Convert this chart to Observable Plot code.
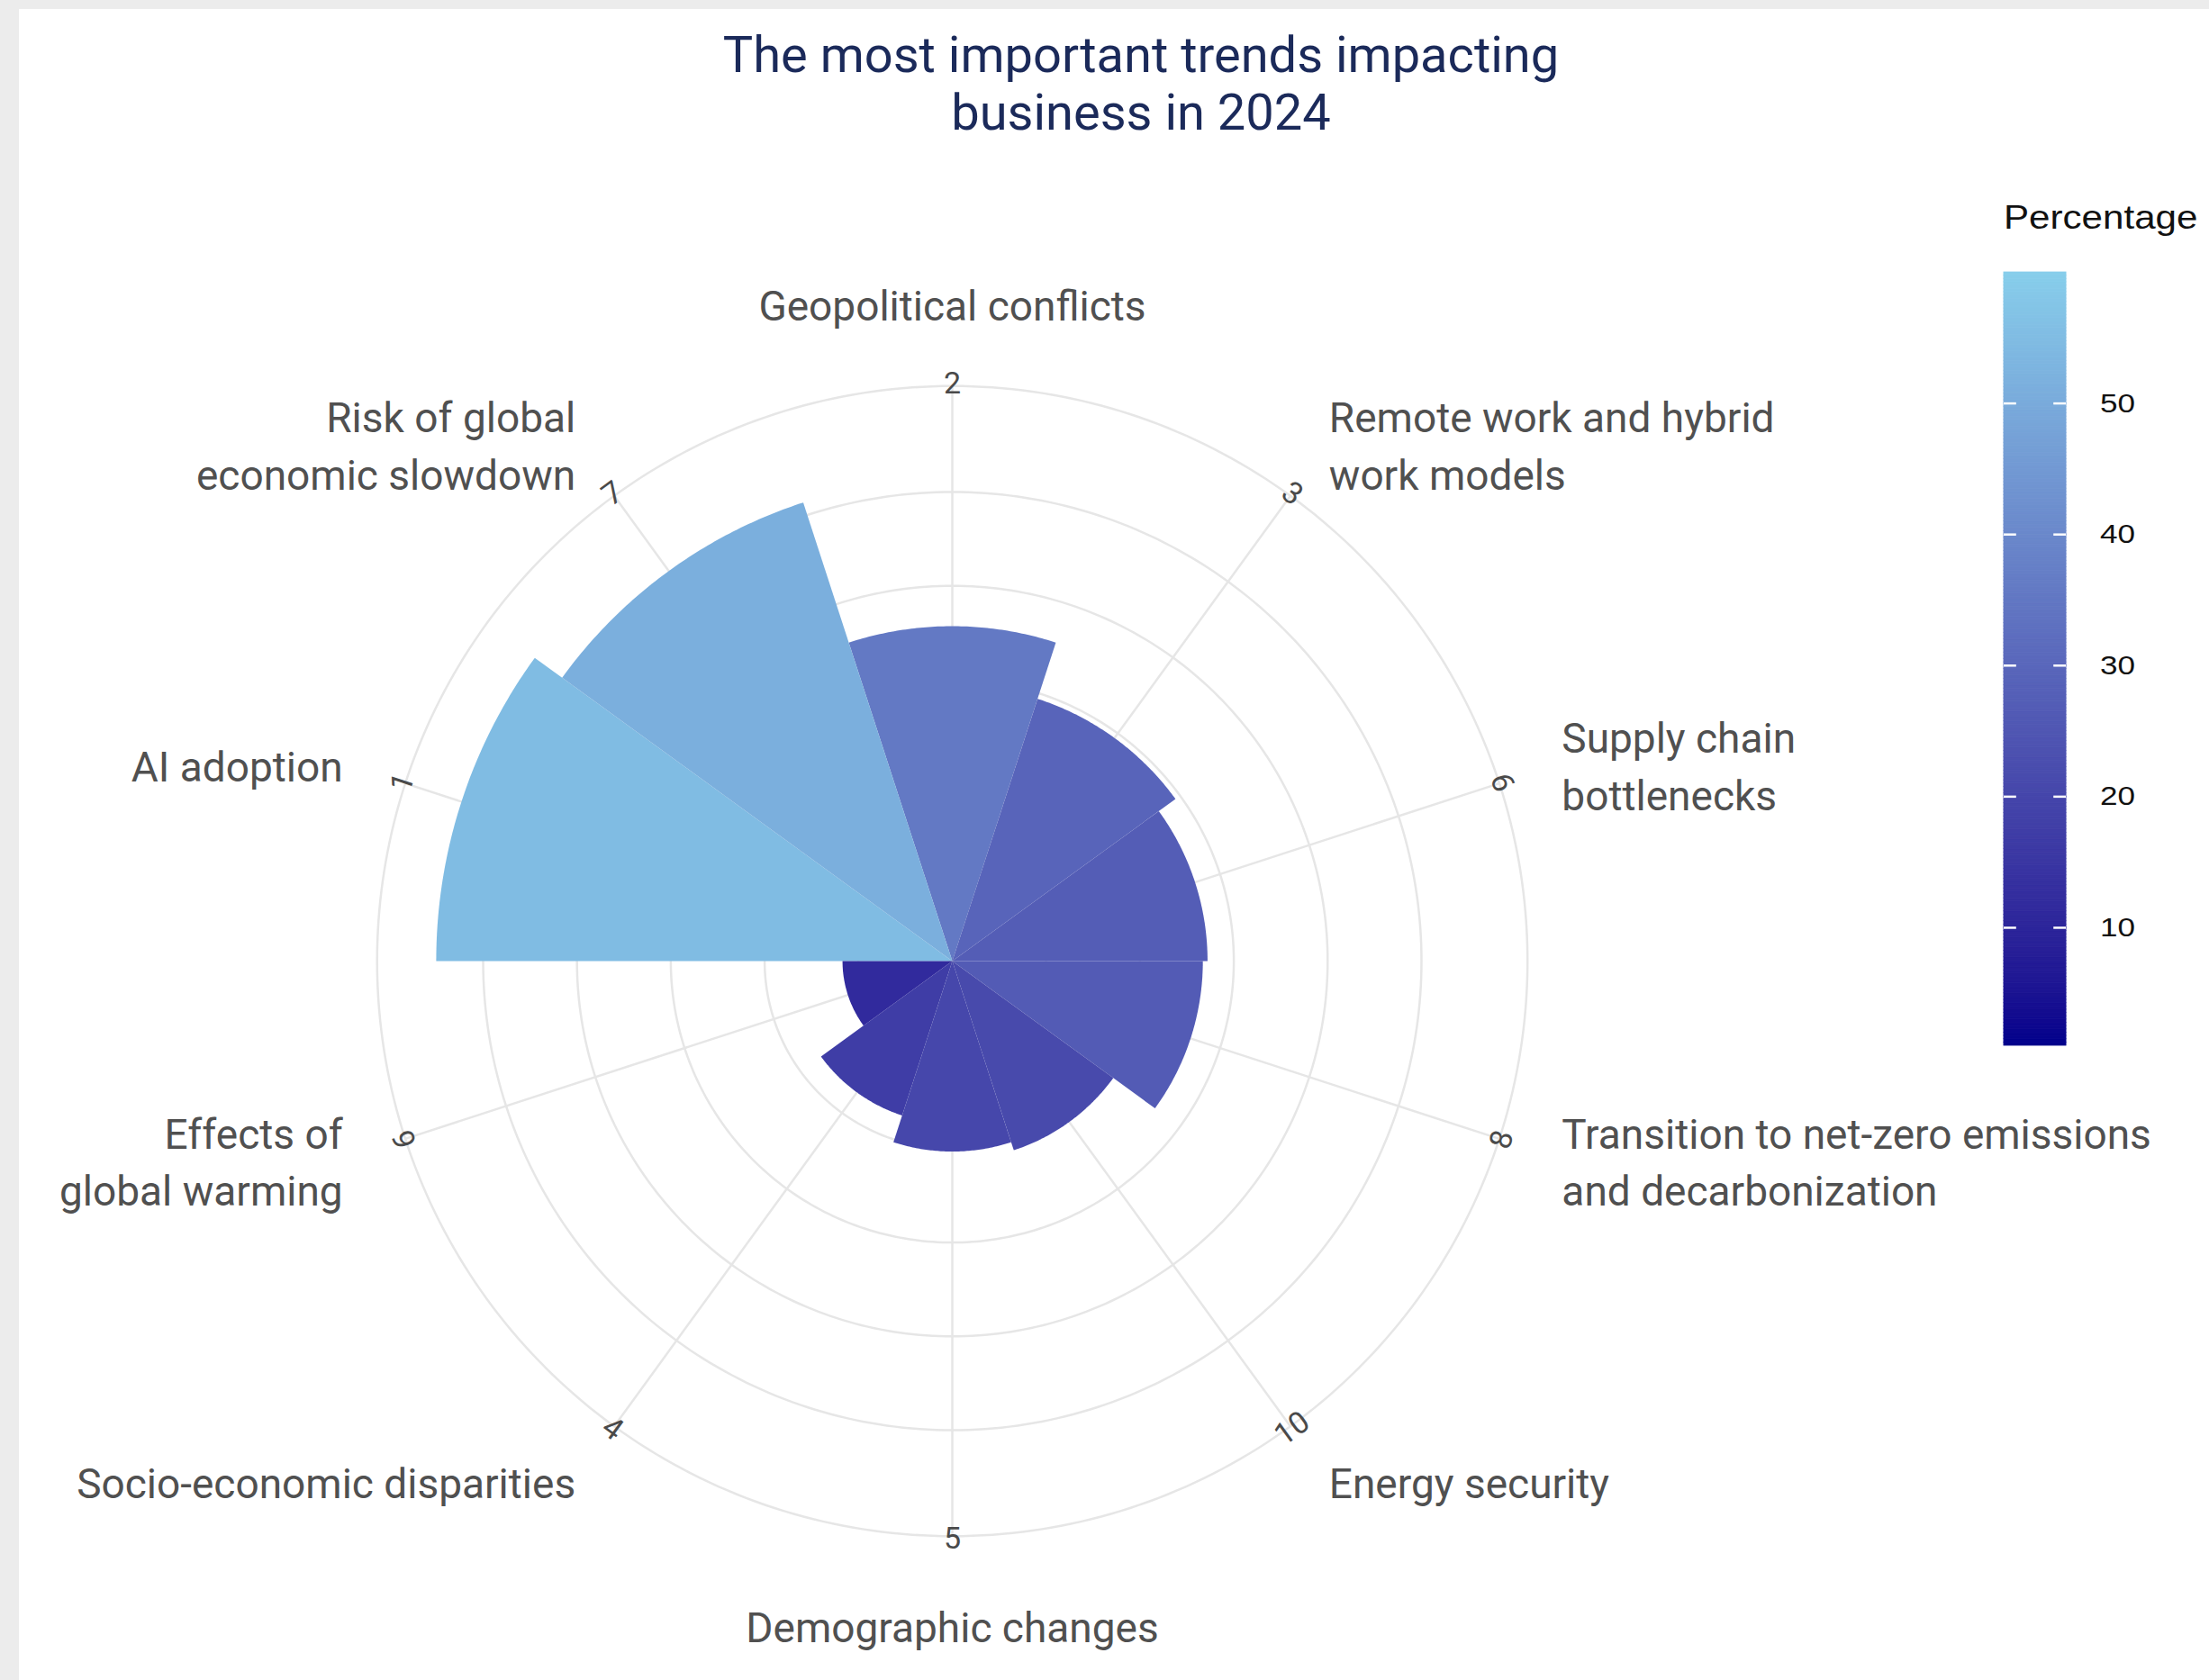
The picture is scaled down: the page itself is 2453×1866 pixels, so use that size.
<!DOCTYPE html>
<html>
<head>
<meta charset="utf-8">
<script src="https://cdn.jsdelivr.net/npm/d3@7"></script>
<script src="https://cdn.jsdelivr.net/npm/@observablehq/plot@0.6"></script>
<style>
  html, body { margin: 0; padding: 0; }
  body { width: 2453px; height: 1866px; background: #ececec; position: relative; overflow: hidden; font-family: Roboto, "Open Sans", sans-serif; }
  #card { position: absolute; left: 21px; top: 10px; right: 0; bottom: 0; background: #ffffff; }
  #title { position: absolute; left: 767px; width: 1000px; top: 29px; text-align: center; font-size: 56px; line-height: 64px; color: #1b2a5a; font-family: Roboto, sans-serif; }
  #chart { position: absolute; left: 0; top: 170px; }
  #legend-title { position: absolute; left: 2225px; top: 224px; font-size: 36px; line-height: 36px; color: #111111; font-family: "Liberation Sans", Arial, sans-serif; transform: scaleX(1.17); transform-origin: 0 0; white-space: nowrap; }
  #legend-bar { position: absolute; left: 2225px; top: 302px; transform: scaleX(1.17); transform-origin: 0 0; }
</style>
</head>
<body>
<div id="card"></div>
<div id="title">The most important trends impacting<br>business in 2024</div>
<div id="chart"></div>
<div id="legend-title">Percentage</div>
<div id="legend-bar"></div>
<script>
// ---------- data ----------
const ids = [1, 2, 3, 4, 5, 6, 7, 8, 9, 10];
const categories = [
  "AI adoption",
  "Geopolitical conflicts",
  "Remote work and hybrid work models",
  "Socio-economic disparities",
  "Demographic changes",
  "Supply chain bottlenecks",
  "Risk of global economic slowdown",
  "Transition to net-zero emissions and decarbonization",
  "Effects of global warming",
  "Energy security"
];
const labelText = [
  "AI adoption",
  "Geopolitical conflicts",
  "Remote work and hybrid\nwork models",
  "Socio-economic disparities",
  "Demographic changes",
  "Supply chain\nbottlenecks",
  "Risk of global\neconomic slowdown",
  "Transition to net-zero emissions\nand decarbonization",
  "Effects of\nglobal warming",
  "Energy security"
];
const percentages = [55.0, 35.7, 29.4, 17.3, 20.3, 27.2, 51.4, 26.7, 11.7, 21.2];
// order of the categories clockwise from 12 o'clock
const thetaOrder = [2, 3, 6, 8, 10, 5, 4, 9, 1, 7];
const radialTicks = [10, 20, 30, 40, 50];
const legendTicks = [10, 20, 30, 40, 50];
const colorDomain = [1, 60];

// ---------- layout constants ----------
const rOuter = 61.3;      // outer ring (data units)
const labelGap = 7;       // category labels beyond the outer ring
const k = 10.42;          // px per data unit
const W = 2453, H = 1696, cx = 1057, cy = 897;

const rad = d => d * Math.PI / 180;
const step = 360 / thetaOrder.length;
const rows = ids.map((id, i) => ({
  id, name: categories[i], label: labelText[i], value: percentages[i],
  angle: thetaOrder.indexOf(id) * step
}));

// wedge outlines (center -> arc -> center) in data coordinates
const wedgePts = rows.flatMap(d => {
  const pts = [{id: d.id, value: d.value, x: 0, y: 0}];
  for (let a = d.angle - step / 2; a <= d.angle + step / 2 + 1e-9; a += 0.5) {
    pts.push({id: d.id, value: d.value, x: d.value * Math.sin(rad(a)), y: d.value * Math.cos(rad(a))});
  }
  return pts;
});

// radial grid circles
const circlePts = [...radialTicks, rOuter].flatMap(r =>
  d3.range(0, 360, 1).map(a => ({r, x: r * Math.sin(rad(a)), y: r * Math.cos(rad(a))}))
);

const colorScale = {type: "linear", domain: colorDomain, range: ["#00008b", "#87ceeb"], interpolate: d3.interpolateLab};
const gridColor = "#e6e6e6";
const labelR = rOuter + labelGap;
const lx = d => labelR * Math.sin(rad(d.angle));
const ly = d => labelR * Math.cos(rad(d.angle));
const sinA = d => Math.sin(rad(d.angle));
const cosA = d => Math.cos(rad(d.angle));
const labelStyle = {fontSize: 46, fill: "#505050", lineHeight: 1.38, fontFamily: "Roboto, sans-serif"};

const chart = Plot.plot({
  width: W, height: H,
  marginTop: 0, marginRight: 0, marginBottom: 0, marginLeft: 0,
  style: {background: "transparent", overflow: "visible", fontFamily: "Roboto, sans-serif"},
  x: {domain: [-cx / k, (W - cx) / k], range: [0, W], axis: null},
  y: {domain: [-(H - cy) / k, cy / k], range: [H, 0], axis: null},
  color: colorScale,
  marks: [
    Plot.line(circlePts, {x: "x", y: "y", z: "r", stroke: gridColor, strokeWidth: 2.5, curve: "linear-closed"}),
    Plot.link(rows, {
      x1: () => 0, y1: () => 0,
      x2: d => rOuter * Math.sin(rad(d.angle)), y2: d => rOuter * Math.cos(rad(d.angle)),
      stroke: gridColor, strokeWidth: 2.5
    }),
    Plot.line(wedgePts, {x: "x", y: "y", z: "id", fill: "value", stroke: "none", curve: "linear-closed"}),
    Plot.text(rows, {
      x: d => (rOuter + 0.3) * Math.sin(rad(d.angle)),
      y: d => (rOuter + 0.3) * Math.cos(rad(d.angle)),
      text: d => String(d.id),
      rotate: d => (d.angle > 90 && d.angle < 270) ? d.angle - 180 : d.angle,
      fontSize: 34, fill: "#4a4a4a"
    }),
    Plot.text(rows.filter(d => sinA(d) > 0.1), {x: lx, y: ly, text: "label", textAnchor: "start", lineAnchor: "middle", ...labelStyle}),
    Plot.text(rows.filter(d => sinA(d) < -0.1), {x: lx, y: ly, text: "label", textAnchor: "end", lineAnchor: "middle", ...labelStyle}),
    Plot.text(rows.filter(d => Math.abs(sinA(d)) <= 0.1 && cosA(d) > 0), {x: lx, y: ly, text: "label", textAnchor: "middle", lineAnchor: "bottom", ...labelStyle}),
    Plot.text(rows.filter(d => Math.abs(sinA(d)) <= 0.1 && cosA(d) < 0), {x: lx, y: ly, text: "label", textAnchor: "middle", lineAnchor: "top", ...labelStyle})
  ]
});
document.getElementById("chart").append(chart);

// ---------- colour bar legend ----------
const legendH = 859, barW = 59, rampStep = 0.25;
const ramp = d3.range(colorDomain[0], colorDomain[1], rampStep);
const legend = Plot.plot({
  width: 150, height: legendH,
  marginTop: 0, marginRight: 0, marginBottom: 0, marginLeft: 0,
  style: {background: "transparent", overflow: "visible", fontFamily: "'Liberation Sans', Arial, sans-serif"},
  x: {domain: [0, 1], range: [0, barW], axis: null},
  y: {domain: colorDomain, range: [legendH, 0], axis: null},
  color: colorScale,
  marks: [
    Plot.rect(ramp, {
      x1: () => 0, x2: () => 1,
      y1: d => d, y2: d => Math.min(d + rampStep, colorDomain[1]),
      fill: d => d + rampStep / 2, stroke: d => d + rampStep / 2, strokeWidth: 0.8
    }),
    Plot.ruleY(legendTicks, {x1: () => 0, x2: () => 0.2, stroke: "white", strokeWidth: 2.5}),
    Plot.ruleY(legendTicks, {x1: () => 0.8, x2: () => 1, stroke: "white", strokeWidth: 2.5}),
    Plot.text(legendTicks, {x: () => 1, y: d => d, dx: 32, text: d => String(d), textAnchor: "start", fontSize: 30, fill: "#111111"})
  ]
});
document.getElementById("legend-bar").append(legend);
</script>
</body>
</html>
